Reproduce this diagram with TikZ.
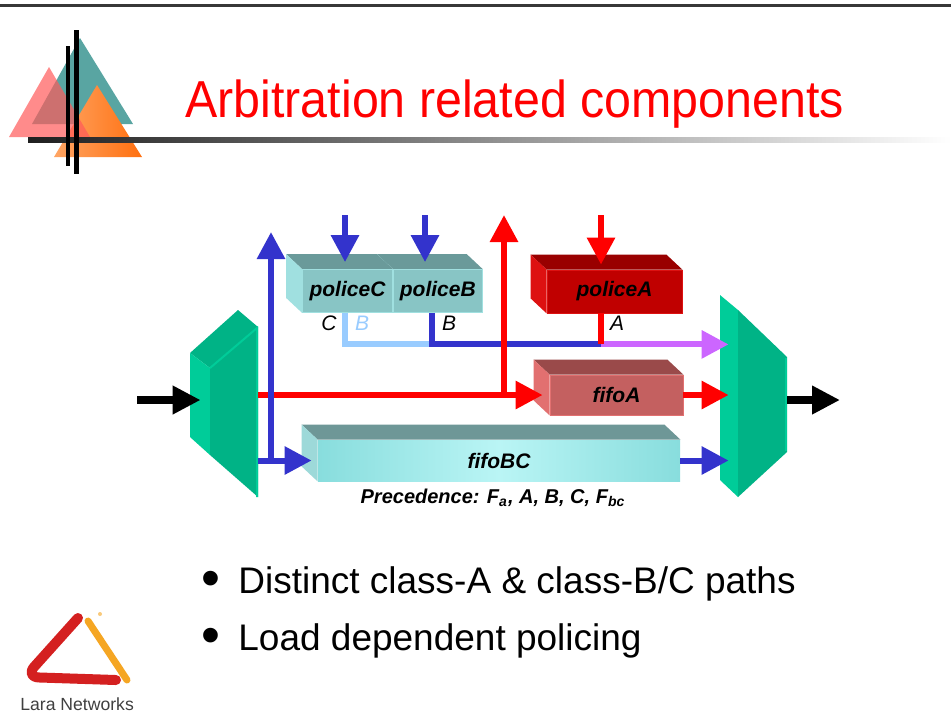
\documentclass[tikz,border=0pt]{standalone}
\usepackage{fontspec}
\setmainfont{Liberation Sans}
\usepackage{graphicx}
\usepackage{tikz}
\usetikzlibrary{arrows.meta,positioning,calc,backgrounds}
\definecolor{flowblue}{RGB}{51,51,204}
\definecolor{flowred}{RGB}{255,0,0}
\definecolor{flowlight}{RGB}{153,204,255}
\definecolor{flowpurple}{RGB}{204,102,255}
\definecolor{muxgreen}{RGB}{0,179,134}
\definecolor{muxlight}{RGB}{0,204,153}
\definecolor{polfront}{RGB}{136,197,197}
\definecolor{poltop}{RGB}{106,154,154}
\definecolor{polside}{RGB}{160,224,224}
\definecolor{pafront}{RGB}{192,0,0}
\definecolor{patop}{RGB}{153,0,0}
\definecolor{paside}{RGB}{221,17,17}
\definecolor{fafront}{RGB}{196,96,96}
\definecolor{fatop}{RGB}{154,74,74}
\definecolor{faside}{RGB}{226,112,112}
\definecolor{bcedge}{RGB}{136,221,221}
\definecolor{bcmid}{RGB}{186,245,245}
\definecolor{bctop}{RGB}{110,151,151}
\definecolor{bcside}{RGB}{157,217,217}
\definecolor{logoteal}{RGB}{60,150,146}
\definecolor{logopink}{RGB}{255,90,90}
\definecolor{laraorange}{RGB}{245,166,35}
\definecolor{larared}{RGB}{212,32,32}

% top and left faces of an extruded box, drawn from its front node
\newcommand{\slabfaces}[3]{%
  \fill[#2] (#1.north west) -- ++(-16,-15) -- ($(#1.north east)+(-16,-15)$) -- (#1.north east) -- cycle;
  \fill[#3] (#1.north west) -- ++(-16,-15) -- ($(#1.south west)+(-16,-15)$) -- (#1.south west) -- cycle;}

\begin{document}
\begin{tikzpicture}[x=0.5pt, y=-0.5pt,
  slab/.style={rectangle, inner sep=0pt, minimum height=21.5pt,
    font=\bfseries\itshape\fontsize{10.5}{12}\selectfont},
  mux/.style={rectangle, inner sep=0pt},
  flow/.style={line width=3pt, -{Triangle[length=13.5pt, width=13.5pt]}},
  wire/.style={line width=3pt},
  bigarrow/.style={line width=4pt, -{Triangle[length=14pt, width=13.5pt]}},
  tag/.style={font=\itshape\fontsize{10.5}{12}\selectfont},
  item/.style={anchor=base west, inner sep=0pt, font=\fontsize{18.5}{22}\selectfont},
  dot/.style={anchor=base west, inner sep=0pt, font=\fontsize{27}{30}\selectfont}]
\useasboundingbox (0,0) rectangle (951,725);
\begin{pgfonlayer}{background}
  \fill[white] (0,0) rectangle (951,725);
\end{pgfonlayer}

% header
\fill[black!78] (0,4) rectangle (951,7);
\fill[logoteal, opacity=0.85] (80,38) -- (32,124) -- (133,124) -- cycle;
\shade[left color={rgb,255:red,255;green,165;blue,100}, right color={rgb,255:red,255;green,112;blue,16}]
  (97,85) -- (54,157) -- (142,157) -- cycle;
\fill[logopink, opacity=0.7] (49,67) -- (9,137) -- (90,137) -- cycle;
\shade[left color=black!88, right color=white] (28,137) rectangle (951,142);
\draw[line width=2pt] (68,46) -- (68,166);
\draw[line width=2.5pt] (76,30) -- (76,174);
\node[anchor=base west, inner sep=0pt, text=flowred, font=\fontsize{26}{30}\selectfont] (title) at (185,117)
  {\scalebox{0.93}[1]{Arbitration related components}};

% input and output selectors
\fill[muxgreen] (190,353) -- (238,310) -- (258,327) -- (210,368) -- cycle;
\fill[muxlight] (190,353) -- (210,368) -- (210,455) -- (190,437) -- cycle;
\fill[muxgreen] (210,368) -- (258,327) -- (258,497) -- (210,455) -- cycle;
\draw[muxlight, line width=1pt] (210,368) -- (257,328) -- (257,497);
\fill[muxlight] (720,295) -- (738,310) -- (738,497) -- (720,480) -- cycle;
\fill[muxgreen] (738,310) -- (787,357) -- (787,452) -- (738,497) -- cycle;
\draw[muxlight, line width=1pt] (786,358) -- (786,451);
\node[mux, minimum width=34pt, minimum height=85pt] (muxin) at (224,412) {};
\node[mux, minimum width=29pt, minimum height=101pt] (muxout) at (758,396) {};

% policers and queues
\node[slab, fill=polfront, draw=polside, minimum width=45pt] (policeC) at (347.5,291) {policeC};
\node[slab, fill=polfront, draw=polside, minimum width=44.5pt, right=0pt of policeC] (policeB) {policeB};
\node[slab, fill=pafront, draw=paside, minimum width=67.5pt] (policeA) at (614.5,291.5) {policeA};
\node[slab, fill=fafront, draw=faside, minimum width=66.5pt, minimum height=20pt] (fifoA) at (616.5,395) {fifoA};
\node[slab, left color=bcedge, right color=bcedge, middle color=bcmid, minimum width=181pt,
  minimum height=20.5pt] (fifoBC) at (499,460.5) {fifoBC};
\begin{pgfonlayer}{background}
  \slabfaces{policeB}{poltop}{polside}
  \slabfaces{policeC}{poltop}{polside}
  \slabfaces{policeA}{patop}{paside}
  \slabfaces{fifoA}{fatop}{faside}
  \slabfaces{fifoBC}{bctop}{bcside}
\end{pgfonlayer}

\node[tag] (tagC) at (329,323) {C};
\node[tag, text=flowlight] (tagBold) at (362,323) {B};
\node[tag] (tagB) at (449,323) {B};
\node[tag] (tagA) at (617,323) {A};
\node[font=\bfseries\itshape\fontsize{10}{12}\selectfont] (order) at (493,498)
  {Precedence: F\textsubscript{a}, A, B, C, F\textsubscript{bc}};

% policer outputs merge onto one bus
\coordinate (tapC) at ($(policeC.south)+(-3,0)$);
\coordinate (tapB) at ($(policeB.south)+(-6,0)$);
\coordinate (tapA) at ($(policeA.south)+(-14,0)$);
\coordinate (bus) at ($(tapA)+(0,31)$);
\draw[wire, flowlight] (tapC) |- (tapB |- bus);
\draw[wire, flowblue] (tapB) |- (bus);
\draw[flow, flowpurple] (bus) -- (muxout.west |- bus);
\draw[wire, flowred] (tapA) -- (bus);

% traffic into the policers
\coordinate (inC) at (345,215);
\coordinate (inB) at (425,215);
\coordinate (inA) at (601,215);
\draw[flow, flowblue, shorten >=3.5pt] (inC) -- (inC |- policeC.north);
\draw[flow, flowblue, shorten >=3.5pt] (inB) -- (inB |- policeB.north);
\draw[flow, flowred, shorten >=2.5pt] (inA) -- (inA |- policeA.north);

% class A path
\coordinate (upA) at (504,215);
\draw[flow, flowred] (muxin.east |- fifoA) -- ([xshift=-3.5pt]fifoA.west);
\draw[flow, flowred] (upA |- fifoA) -- (upA);
\draw[flow, flowred] (fifoA.east) -- (muxout.west |- fifoA);

% class B/C path
\coordinate (upBC) at (271,232);
\draw[flow, flowblue] (muxin.east |- fifoBC) -- ([xshift=-3pt]fifoBC.west);
\draw[flow, flowblue] (upBC |- fifoBC) -- (upBC);
\draw[flow, flowblue] (fifoBC.east) -- (muxout.west |- fifoBC);

% link in and out
\coordinate (src) at (137,400);
\coordinate (sink) at (840,400);
\draw[bigarrow] (src) -- ([xshift=5.5pt]muxin.west |- src);
\draw[bigarrow] (muxout.east |- sink) -- (sink);

% bullets
\node[dot] (dot1) at (201,596) {•};
\node[item] (line1) at (238,593) {Distinct class-A \& class-B/C paths};
\node[dot] (dot2) at (201,653) {•};
\node[item] (line2) at (238,650) {Load dependent policing};

% company mark
\draw[larared, line width=5pt, line cap=round, line join=round, rounded corners=7pt]
  (78,618) -- (25,677) -- (116,680);
\draw[laraorange, line width=3.5pt, line cap=round] (88,621) -- (127,680);
\fill[laraorange!60] (100,614) circle (1pt);
\node[anchor=base west, inner sep=0pt, text=black!75, font=\fontsize{8.8}{10}\selectfont] (lara) at (20,710) {Lara Networks};
\end{tikzpicture}
\end{document}
